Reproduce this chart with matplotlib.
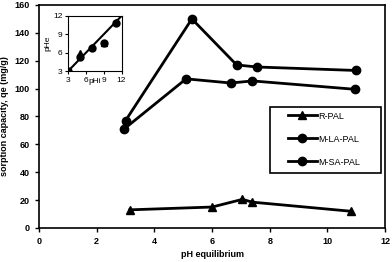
import matplotlib
matplotlib.use('Agg')
import matplotlib.pyplot as plt
from matplotlib.patches import Rectangle

plt.rcParams['font.family'] = ['Liberation Sans', 'DejaVu Sans']

# main data
r_pal_x = [3.15, 6.0, 7.05, 7.4, 10.8]
r_pal_y = [13, 15, 20.5, 18.5, 12]
la_pal_x = [3.0, 5.3, 6.85, 7.55, 11.0]
la_pal_y = [77, 150, 117, 115.5, 113]
sa_pal_x = [2.95, 5.1, 6.65, 7.4, 10.95]
sa_pal_y = [71, 107, 104, 105.5, 99.5]

# inset data
phi = [3, 5, 7, 9, 11]
phe_r = [3, 6, 7, 7.5, 11]
phe_m = [3, 5.3, 6.8, 7.5, 10.8]
line_x = [3, 12]
line_y = [3, 12]

fig = plt.figure(figsize=(3.92, 2.62), dpi=100)
ax = fig.add_axes([0.0995, 0.130, 0.883, 0.851])

ax.plot(r_pal_x, r_pal_y, color='black', lw=2, marker='^', ms=6, label='R-PAL')
ax.plot(la_pal_x, la_pal_y, color='black', lw=2, marker='o', ms=6, label='M-LA-PAL')
ax.plot(sa_pal_x, sa_pal_y, color='black', lw=2, marker='o', ms=6, label='M-SA-PAL')

ax.set_xlim(0, 12)
ax.set_ylim(0, 160)
ax.set_xticks(range(0, 13, 2))
ax.set_yticks(range(0, 161, 20))
ax.tick_params(labelsize=6.5, length=3, width=1)
for lbl in ax.get_xticklabels() + ax.get_yticklabels():
    lbl.set_fontweight('bold')
ax.set_xlabel('pH equilibrium', fontsize=6.5, fontweight='bold', labelpad=3)
ax.set_ylabel('sorption capacity, qe (mg/g)', fontsize=6.5, fontweight='bold', labelpad=4)
for s in ax.spines.values():
    s.set_linewidth(1.2)

# legend box drawn separately so padding matches
box = Rectangle((0.668, 0.247), 0.32, 0.296, transform=ax.transAxes,
                facecolor='white', edgecolor='black', lw=1.2, zorder=4)
ax.add_patch(box)
leg = ax.legend(loc='upper left', bbox_to_anchor=(0.718, 0.522), borderaxespad=0,
                fontsize=6.5, frameon=False, handlelength=3.3, labelspacing=1.55,
                borderpad=0, handletextpad=0.15)
leg.set_zorder(5)

ins = fig.add_axes([0.174, 0.729, 0.136, 0.21])
ins.plot(line_x, line_y, color='black', lw=1.5)
ins.plot(phi, phe_r, color='black', ls='none', marker='^', ms=5)
ins.plot(phi, phe_m, color='black', ls='none', marker='o', ms=5)
ins.set_xlim(3, 12)
ins.set_ylim(3, 12)
ins.set_xticks([3, 6, 9, 12])
ins.set_yticks([3, 6, 9, 12])
ins.tick_params(labelsize=6, length=2, pad=2)
ins.set_xlabel('pHi', fontsize=6, labelpad=-4)
ins.set_ylabel('pHe', fontsize=6, labelpad=1)

fig.savefig('out.png', dpi=100)
